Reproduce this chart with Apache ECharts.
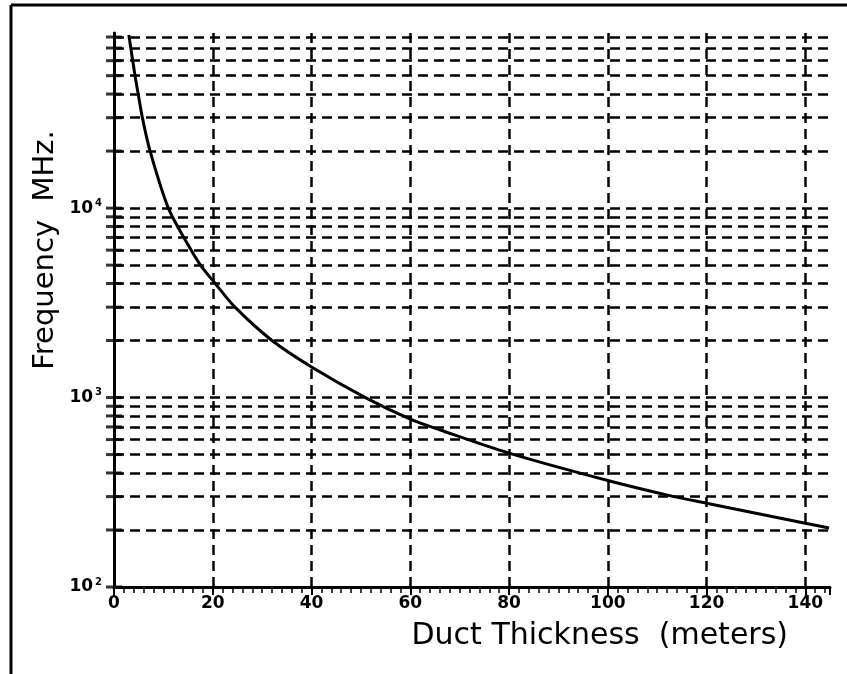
<!DOCTYPE html>
<html>
<head>
<meta charset="utf-8">
<script src="https://cdn.jsdelivr.net/npm/echarts@6/dist/echarts.min.js"></script>
<style>
  html, body { margin: 0; padding: 0; background: #fff; }
  #chart { width: 847px; height: 674px; }
</style>
</head>
<body>
<div id="chart"></div>
<script>
// duct thickness (m) vs frequency (MHz)
var thickness = [3.0, 4.26, 4.9, 5.75, 7.3, 11.0, 15.0, 17.4, 20.5, 24.5, 32.0, 40.0, 50.9, 60.0, 66.1, 80.0, 100.0, 113.4, 120.0, 140.0, 144.8];
var frequency = [82000, 50000, 40000, 30000, 20000, 10000, 6400, 5050, 4000, 3000, 2000, 1450, 1000, 770, 674, 509, 365, 300, 277, 217, 205];

// grid / tick values
var xGridValues = [20, 40, 60, 80, 100, 120, 140];
var yGridValues = [200, 300, 400, 500, 600, 700, 800, 900,
  1000, 2000, 3000, 4000, 5000, 6000, 7000, 8000, 9000,
  10000, 20000, 30000, 40000, 50000, 60000, 70000, 80000];
var yTickValues = [100].concat(yGridValues);

var chart = echarts.init(document.getElementById('chart'));

var curve = thickness.map(function (t, i) { return [t, frequency[i]]; });
var ticks = yTickValues.map(function (v) { return [0, v]; });

var dash = { color: '#000', width: 2.5, type: [10, 6] };
var gridLines = [];
xGridValues.forEach(function (v) { gridLines.push({ xAxis: v }); });
yGridValues.forEach(function (v) { gridLines.push({ yAxis: v }); });

var option = {
  animation: false,
  backgroundColor: '#fff',
  grid: { left: 114, top: 33, width: 716, height: 554 },
  xAxis: {
    type: 'value',
    min: 0,
    max: 145,
    interval: 20,
    axisLine: { show: true, lineStyle: { color: '#000', width: 3 } },
    axisTick: { show: true, length: 8, lineStyle: { color: '#000', width: 2 } },
    minorTick: { show: true, splitNumber: 10, length: 6, lineStyle: { color: '#000', width: 1.5 } },
    splitLine: { show: false },
    axisLabel: {
      margin: 8,
      color: '#000',
      fontSize: 17,
      fontWeight: 'bold',
      fontFamily: 'DejaVu Sans',
      showMaxLabel: false
    }
  },
  yAxis: {
    type: 'log',
    logBase: 10,
    min: 100,
    max: 84000,
    axisLine: { show: true, lineStyle: { color: '#000', width: 3 } },
    axisTick: { show: false },
    splitLine: { show: false },
    axisLabel: {
      margin: 12,
      color: '#000',
      showMaxLabel: false,
      formatter: function (v) {
        var e = Math.round(Math.log10(v));
        if (Math.abs(Math.log10(v) - e) > 1e-6) return '';
        return '{b|10}{e|' + e + '}';
      },
      rich: {
        b: { fontSize: 17, fontWeight: 'bold', fontFamily: 'DejaVu Sans', color: '#000' },
        e: { fontSize: 10, fontWeight: 'bold', fontFamily: 'DejaVu Sans', color: '#000', padding: [0, 0, 10, 2] }
      }
    }
  },
  graphic: [
    { type: 'line', shape: { x1: 11, y1: 5, x2: 847, y2: 5 }, style: { stroke: '#000', lineWidth: 3 } },
    { type: 'line', shape: { x1: 11, y1: 5, x2: 11, y2: 674 }, style: { stroke: '#000', lineWidth: 3 } },
    {
      type: 'text', x: 788, y: 636,
      style: { text: 'Duct Thickness  (meters)', fill: '#000', fontSize: 30, fontFamily: 'DejaVu Sans', textAlign: 'right', textVerticalAlign: 'middle' }
    },
    {
      type: 'text', x: 45, y: 250, rotation: Math.PI / 2,
      style: { text: 'Frequency  MHz.', fill: '#000', fontSize: 29, fontFamily: 'DejaVu Sans', textAlign: 'center', textVerticalAlign: 'middle' }
    }
  ],
  series: [
    {
      name: 'ticks',
      type: 'scatter',
      data: ticks,
      symbol: 'rect',
      symbolSize: [16, 3],
      itemStyle: { color: '#000' },
      silent: true,
      z: 3,
      markLine: {
        silent: true,
        symbol: 'none',
        label: { show: false },
        lineStyle: dash,
        emphasis: { disabled: true },
        data: gridLines
      }
    },
    {
      name: 'frequency',
      type: 'line',
      data: curve,
      smooth: 0.3,
      showSymbol: false,
      lineStyle: { color: '#000', width: 3 },
      z: 5
    }
  ]
};

chart.setOption(option);
</script>
</body>
</html>
